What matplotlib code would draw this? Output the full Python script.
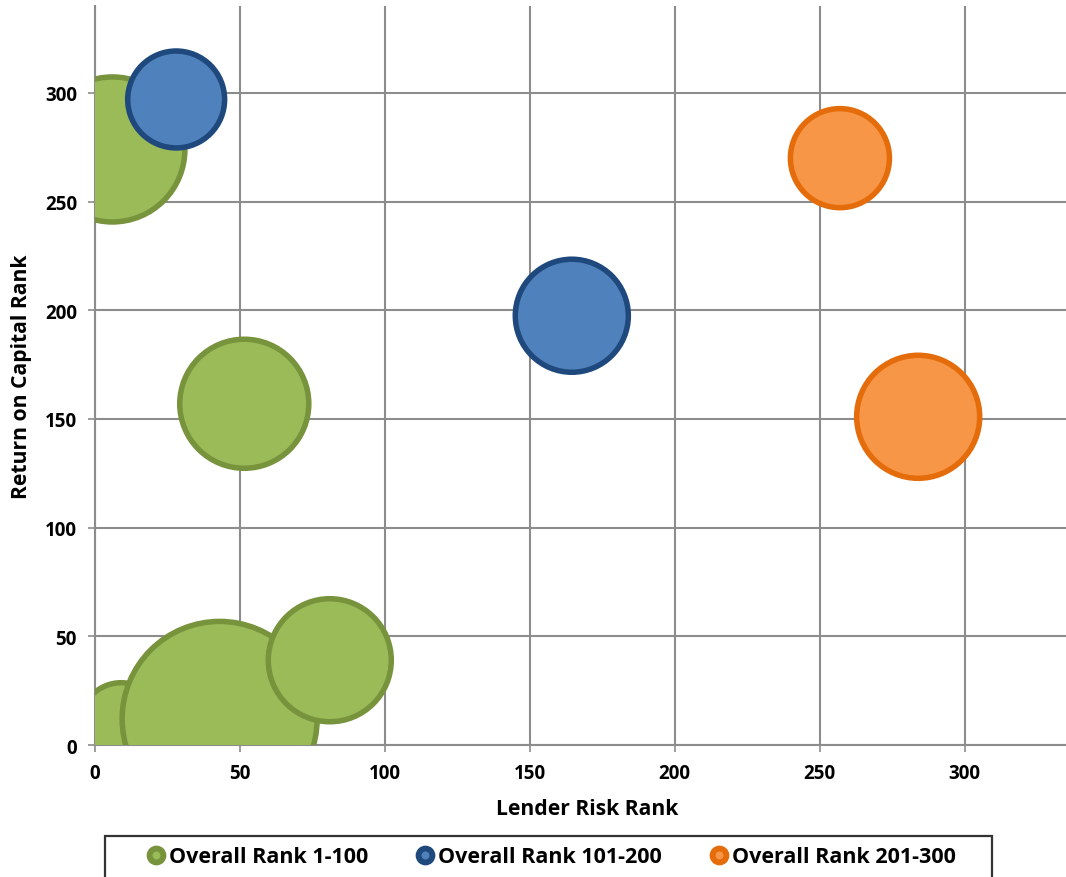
import matplotlib
matplotlib.use("Agg")
import matplotlib.pyplot as plt
from matplotlib.lines import Line2D
from matplotlib.patches import Rectangle
import numpy as np

plt.rcParams['font.family'] = ['Open Sans', 'DejaVu Sans']
plt.rcParams['font.weight'] = 'bold'

# Bubble data: (Lender Risk Rank, Return on Capital Rank, bubble size)
green_x = [9, 43, 81, 51.5, 6]
green_y = [10, 12, 39, 157, 274]
green_size = [17.3, 100, 39.8, 43.8, 55.3]

blue_x = [28, 164.5]
blue_y = [297, 197.5]
blue_size = [24.7, 33.6]

orange_x = [257, 284]
orange_y = [270, 151]
orange_size = [25.8, 39.8]

series_labels = ["Overall Rank 1-100", "Overall Rank 101-200", "Overall Rank 201-300"]
x_ticks = [0, 50, 100, 150, 200, 250, 300]
y_ticks = [0, 50, 100, 150, 200, 250, 300]

fills = ["#9BBB59", "#4F81BD", "#F79646"]
edges = ["#77933C", "#1F497D", "#E46C0A"]

DPI = 100
fig = plt.figure(figsize=(10.66, 8.78), dpi=DPI)
W, H = 1066, 878
ax = fig.add_axes([95 / W, 1 - 746 / H, 1 - 95 / W, (746 - 7) / H])

ax.set_xlim(0, 335)
ax.set_ylim(0, 340)

# largest bubble radius in pixels
R_MAX = 97.5
EDGE_PX = 5.5


def marker_area(sizes):
    sizes = np.asarray(sizes, dtype=float)
    r_px = R_MAX * np.sqrt(sizes / 100.0)
    d_pt = 2 * r_px * 72.0 / DPI
    return d_pt ** 2


for xs, ys, ss, fc, ec in [
    (green_x, green_y, green_size, fills[0], edges[0]),
    (blue_x, blue_y, blue_size, fills[1], edges[1]),
    (orange_x, orange_y, orange_size, fills[2], edges[2]),
]:
    ax.scatter(xs, ys, s=marker_area(ss), facecolor=fc, edgecolor=ec,
               linewidths=EDGE_PX * 72.0 / DPI, zorder=3, clip_on=True)

grid_c = "#8C8C8C"
ax.set_xticks(x_ticks)
ax.set_yticks(y_ticks)
ax.grid(True, color=grid_c, linewidth=1.5, zorder=0)
ax.set_axisbelow(True)
for side in ["top", "right"]:
    ax.spines[side].set_visible(False)
for side in ["left", "bottom"]:
    ax.spines[side].set_color(grid_c)
    ax.spines[side].set_linewidth(1.5)
ax.tick_params(axis="both", direction="out", length=5, width=1.2, color=grid_c,
               labelsize=13.5, pad=8, labelcolor="black")
for lbl in ax.get_xticklabels() + ax.get_yticklabels():
    lbl.set_fontweight("bold")

ax.set_xlabel("Lender Risk Rank", fontsize=15.2, fontweight="bold", va="center")
ax.xaxis.set_label_coords(0.507, -0.0866)
ax.set_ylabel("Return on Capital Rank", fontsize=15.2, fontweight="bold", va="center")
ax.yaxis.set_label_coords(-0.0762, 0.5)

# Legend with framed box along the bottom
fig.patches.append(Rectangle((105 / W, 1 - 882 / H), (992 - 105) / W, 45 / H,
                             transform=fig.transFigure, facecolor="white",
                             edgecolor="#333333", linewidth=1.6))
handles = [Line2D([], [], linestyle="none", marker="o", markersize=10,
                  markerfacecolor=fc, markeredgecolor=ec, markeredgewidth=4.2)
           for fc, ec in zip(fills, edges)]
fig.legend(handles, series_labels, loc="center", ncol=3,
           bbox_to_anchor=(551 / W, 1 - 858 / H), frameon=False,
           prop={"size": 15.5, "weight": "bold"}, handlelength=0.9,
           handletextpad=0.15, columnspacing=2.2, borderaxespad=0)

fig.savefig("out.png", dpi=DPI)
